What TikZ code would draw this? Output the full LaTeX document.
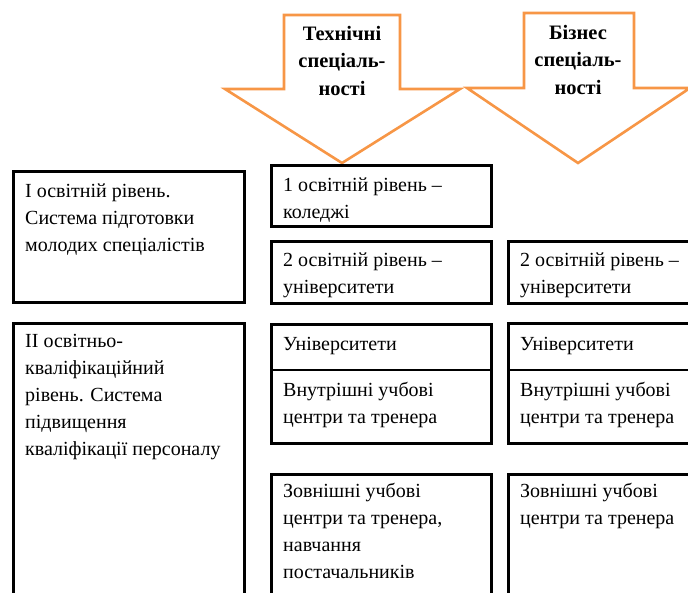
\documentclass[tikz,border=0pt]{standalone}
\usepackage{fontspec}
\setmainfont{Liberation Serif}
\definecolor{arroworange}{RGB}{247,150,70}

\begin{document}
\begin{tikzpicture}[x={(1pt,0pt)}, y={(0pt,-1pt)}]
 \tikzstyle{bigarrow} = [draw=arroworange,line width=2.6pt,fill=white]
 \tikzstyle{box} = [draw=black,line width=2.8pt]
 \tikzstyle{txt} = [anchor=base west,inner sep=0,align=left,font=\fontsize{20}{27}\selectfont]
 \tikzstyle{headtxt} = [anchor=base,inner sep=0,align=center,font=\fontsize{20.5}{27.5}\selectfont\bfseries]

 \useasboundingbox (0,0) rectangle (688,592);
 \clip (0,0) rectangle (688,592);

% Arrows
 \draw[bigarrow] (284,15) -- (400,15) -- (400,89) -- (460,89) -- (342,163)
                 -- (225,89) -- (284,89) -- cycle;
 \draw[bigarrow] (524,13) -- (634,13) -- (634,88) -- (690,88) -- (578,163)
                 -- (467,88) -- (524,88) -- cycle;
% base anchor = last line
 \node[headtxt] (tech) at (342,95) {Технічні\\спеціаль-\\ності};
 \node[headtxt] (biz) at (578,94) {Бізнес\\спеціаль-\\ності};

% Boxes
 \draw[box] (13.5,171.5) rectangle (244.5,302.5);
 \draw[box] (13.5,323.5) rectangle (244.5,610);
 \draw[box] (271.5,165.5) rectangle (491.5,226.5);
 \draw[box] (271.5,241.5) rectangle (491.5,303.5);
 \draw[box] (508.5,241.5) rectangle (700,303.5);
 \draw[box] (271.5,324.5) rectangle (491.5,443.5);
 \draw[box] (271.5,370) -- (491.5,370);
 \draw[box] (508.5,323.5) rectangle (700,443.5);
 \draw[box] (508.5,370) -- (700,370);
 \draw[box] (271.5,474.5) rectangle (491.5,610);
 \draw[box] (508.5,474.5) rectangle (700,610);

% Texts
 \node[txt] (lvl1) at (25,251) {І освітній рівень.\\Система підготовки\\молодих спеціалістів};
 \node[txt] (lvl2) at (25,455) {ІІ освітньо-\\кваліфікаційний\\рівень. Система\\підвищення\\кваліфікації персоналу};
 \node[txt] (coll) at (283,218) {1 освітній рівень –\\коледжі};
 \node[txt] (unit) at (283,293) {2 освітній рівень –\\університети};
 \node[txt] (unib) at (520,293) {2 освітній рівень –\\університети};
 \node[txt] (ut) at (283,350) {Університети};
 \node[txt] (ub) at (520,350) {Університети};
 \node[txt] (int) at (283,423) {Внутрішні учбові\\центри та тренера};
 \node[txt] (inb) at (520,423) {Внутрішні учбові\\центри та тренера};
 \node[txt] (ext) at (283,578) {Зовнішні учбові\\центри та тренера,\\навчання\\постачальників};
 \node[txt] (exb) at (520,524) {Зовнішні учбові\\центри та тренера};

\end{tikzpicture}
\end{document}
